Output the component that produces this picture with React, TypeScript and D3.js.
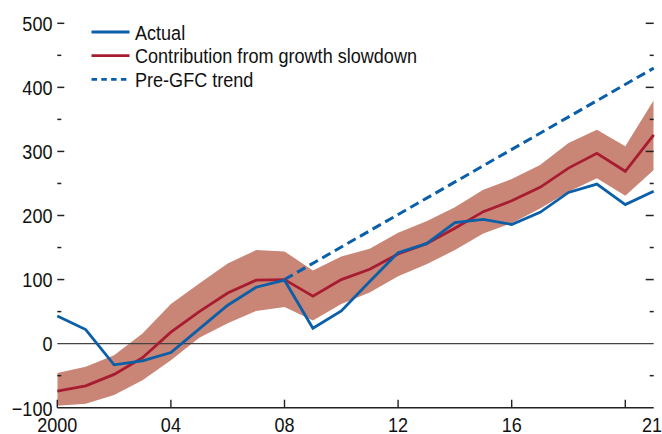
import React from "react";
import * as d3 from "d3";

const years = d3.range(2000, 2022);
const actual = [43, 22, -33, -27, -14, 23, 60, 88, 99, 24, 51, 97, 142, 156, 189, 194, 186, 205, 236, 249, 217, 238];
const contribution = [-74, -66, -48, -22, 18, 50, 79, 99, 100, 74, 100, 116, 140, 156, 180, 206, 223, 244, 274, 297, 269, 326];
const bandUpper = [-46, -36, -18, 16, 62, 94, 125, 146, 144, 114, 136, 148, 173, 191, 213, 240, 257, 279, 313, 334, 308, 380];
const bandLower = [-97, -94, -80, -57, -26, 9, 32, 51, 57, 36, 62, 80, 105, 124, 146, 172, 188, 211, 237, 258, 231, 271];
const trendYears = [2008, 2021];
const trendValues = [100, 430];

const xTicks = [2000, 2004, 2008, 2012, 2016, 2020];
const xLabelYears = [2000, 2004, 2008, 2012, 2016, 2021];
const xLabels = ["2000", "04", "08", "12", "16", "21"];
const yMajor = [500, 400, 300, 200, 100, 0, -100];
const yMinor = [450, 350, 250, 150, 50, -50];
const yLabels = ["500", "400", "300", "200", "100", "0", "\u2212100"];
const legendItems = ["Actual", "Contribution from growth slowdown", "Pre-GFC trend"];

const BLUE = "#0b5fa8";
const RED = "#a81c32";
const BAND = "#c98676";
const AXIS = "#222";
const FONT = "'Liberation Sans', Arial, sans-serif";
const SX = 0.86;

function T({ x, y, anchor, children }: { x: number; y: number; anchor?: string; children: React.ReactNode }) {
  return (
    <text transform={`translate(${x},${y}) scale(${SX},1)`} textAnchor={anchor || "start"} fontSize={21} fill="#111">
      {children}
    </text>
  );
}

export default function App() {
  const W = 662, H = 434;
  const left = 57.3, right = 653.7, top = 23.3, bottom = 407.7;
  const x = d3.scaleLinear().domain([2000, 2021]).range([left, right]);
  const y = d3.scaleLinear().domain([-100, 500]).range([bottom, top]);

  const line = d3.line<[number, number]>().x(d => x(d[0])).y(d => y(d[1]));
  const area = d3.area<number>()
    .x(i => x(years[i]))
    .y0(i => y(bandLower[i]))
    .y1(i => y(bandUpper[i]));

  const actualPts = years.map((yr, i) => [yr, actual[i]] as [number, number]);
  const contribPts = years.map((yr, i) => [yr, contribution[i]] as [number, number]);
  const trendPts = trendYears.map((yr, i) => [yr, trendValues[i]] as [number, number]);

  const legY = [32, 55.7, 79.4];

  return (
    <svg width={W} height={H} style={{ position: "absolute", left: 0, top: 0, background: "#fff" }}
      fontFamily={FONT}>
      <defs>
        <clipPath id="plot">
          <rect x={left} y={0} width={right - left} height={bottom} />
        </clipPath>
      </defs>
      <g clipPath="url(#plot)">
        <path d={area(years.map((_, i) => i)) || ""} fill={BAND} />
      </g>
      <line x1={left} x2={right} y1={y(0)} y2={y(0)} stroke="#444" strokeWidth={1.2} />
      <path d={line(trendPts) || ""} fill="none" stroke={BLUE} strokeWidth={3} strokeDasharray="9.5,5" />
      <path d={line(contribPts) || ""} fill="none" stroke={RED} strokeWidth={2.8} />
      <path d={line(actualPts) || ""} fill="none" stroke={BLUE} strokeWidth={2.8} />

      {/* x axis */}
      <line x1={left} x2={right} y1={bottom} y2={bottom} stroke={AXIS} strokeWidth={1.6} />
      {xTicks.map(t => (
        <line key={"xt" + t} x1={x(t)} x2={x(t)} y1={bottom} y2={bottom - 8} stroke={AXIS} strokeWidth={1.4} />
      ))}
      {xLabelYears.map((t, i) => (
        <T key={"xl" + t} x={Math.min(x(t), 652)} y={432} anchor="middle">{xLabels[i]}</T>
      ))}

      {/* y axis ticks both sides */}
      {yMajor.map((v, i) => (
        <g key={"ym" + v}>
          {v !== 0 && v !== -100 && (
            <line x1={left} x2={left + 7} y1={y(v)} y2={y(v)} stroke={AXIS} strokeWidth={1.5} />
          )}
          {v !== 0 && v !== -100 && (
            <line x1={right - 8} x2={right} y1={y(v)} y2={y(v)} stroke={AXIS} strokeWidth={1.5} />
          )}
          <T x={52.5} y={y(v) + 7.8} anchor="end">{yLabels[i]}</T>
        </g>
      ))}
      {yMinor.map(v => (
        <g key={"yn" + v}>
          <line x1={left} x2={left + 4} y1={y(v)} y2={y(v)} stroke={AXIS} strokeWidth={1.5} />
          <line x1={right - 4} x2={right} y1={y(v)} y2={y(v)} stroke={AXIS} strokeWidth={1.5} />
        </g>
      ))}

      {/* legend */}
      <line x1={91.5} x2={129.5} y1={legY[0]} y2={legY[0]} stroke={BLUE} strokeWidth={2.8} />
      <line x1={91.5} x2={129.5} y1={legY[1]} y2={legY[1]} stroke={RED} strokeWidth={2.8} />
      <line x1={91.5} x2={129.5} y1={legY[2]} y2={legY[2]} stroke={BLUE} strokeWidth={2.8} strokeDasharray="5.5,4.3" />
      {legendItems.map((t, i) => (
        <T key={t} x={135} y={legY[i] + 7.6}>{t}</T>
      ))}
    </svg>
  );
}
